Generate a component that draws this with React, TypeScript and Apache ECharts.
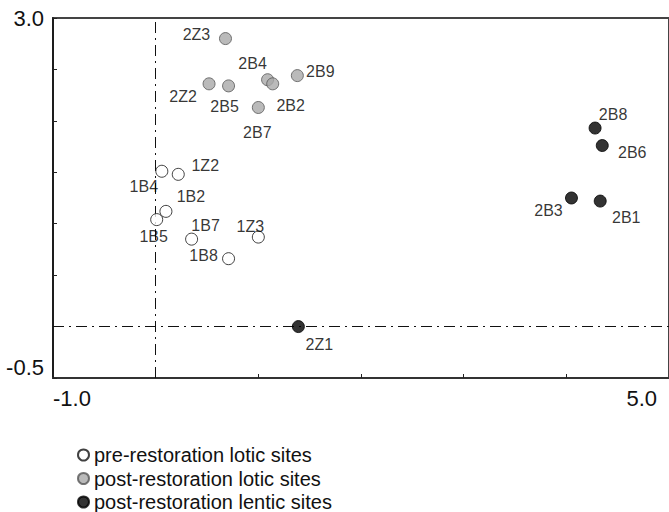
import React, { useEffect, useRef } from 'react';
import * as echarts from 'echarts';

const seriesNames = ['pre-restoration lotic sites', 'post-restoration lotic sites', 'post-restoration lentic sites'];

const preNames = ['1B4', '1Z2', '1B2', '1B5', '1B7', '1Z3', '1B8'];
const preX = [0.06, 0.22, 0.10, 0.01, 0.35, 1.00, 0.71];
const preY = [1.51, 1.48, 1.12, 1.04, 0.85, 0.87, 0.66];

const loticNames = ['2Z3', '2B4', '2B2', '2B9', '2Z2', '2B5', '2B7'];
const loticX = [0.68, 1.09, 1.14, 1.38, 0.52, 0.71, 1.00];
const loticY = [2.80, 2.40, 2.36, 2.44, 2.36, 2.34, 2.13];

const lenticNames = ['2Z1', '2B8', '2B6', '2B3', '2B1'];
const lenticX = [1.39, 4.28, 4.35, 4.05, 4.33];
const lenticY = [0.00, 1.93, 1.76, 1.25, 1.22];

const xTickLabels = ['-1.0', '5.0'];
const yTickLabels = ['3.0', '-0.5'];

// label placement (styling only)
const labelOffsets: Record<string, [number, number]> = {
  '2Z3': [-29, -4], '2B4': [-15, -16], '2B9': [23, -4], '2Z2': [-26, 13], '2B5': [-4, 21],
  '2B2': [18, 22], '2B7': [-1, 25], '1Z2': [27, -9], '1B4': [-18, 15], '1B2': [25, -15],
  '1B5': [-3, 17], '1B7': [14, -14], '1Z3': [-8, -11], '1B8': [-25, -3], '2Z1': [21, 18],
  '2B8': [18, -14], '2B6': [30, 7], '2B3': [-23, 12], '2B1': [26, 16],
};

const FONT = 'Liberation Sans, Arial, sans-serif';

function buildData(names: string[], xs: number[], ys: number[]) {
  return names.map((n, i) => ({
    name: n,
    value: [xs[i], ys[i]],
    label: { offset: labelOffsets[n] || [0, 0] },
  }));
}

export default function App() {
  const ref = useRef<HTMLDivElement>(null);
  useEffect(() => {
    const chart = echarts.init(ref.current!, null, { renderer: 'svg' });
    const pointLabel = {
      show: true,
      position: 'inside',
      formatter: '{b}',
      color: '#000',
      fontFamily: FONT,
      fontSize: 16,
      align: 'center',
      verticalAlign: 'middle',
    };
    const option: any = {
      animation: false,
      backgroundColor: '#fff',
      grid: { left: 53, right: -2, top: 18, bottom: 134, show: true, borderColor: '#444', borderWidth: 2, backgroundColor: 'transparent' },
      legend: {
        data: seriesNames,
        orient: 'vertical',
        left: 77,
        top: 445,
        padding: 0,
        height: 100,
        itemWidth: 11,
        itemHeight: 11,
        itemGap: 3.5,
        icon: 'circle',
        textStyle: { fontFamily: FONT, fontSize: 20, color: '#111', lineHeight: 20 },
      },
      xAxis: {
        type: 'value',
        min: -1,
        max: 5,
        interval: 1,
        splitLine: { show: false },
        axisLine: { onZero: false, lineStyle: { color: '#333', width: 2 } },
        axisTick: { show: true, inside: true, length: 4, lineStyle: { color: '#222' } },
        axisLabel: {
          fontFamily: FONT,
          fontSize: 22,
          color: '#111',
          margin: 9,
          alignMinLabel: 'left',
          alignMaxLabel: 'right',
          formatter: (v: number) => {
            if (Math.abs(v - -1) < 1e-9) return xTickLabels[0];
            if (Math.abs(v - 5) < 1e-9) return '{r|' + xTickLabels[1] + '}';
            return '';
          },
          rich: { r: { fontFamily: FONT, fontSize: 22, color: '#111', padding: [0, 12, 0, 0] } },
        },
      },
      yAxis: {
        type: 'value',
        min: -0.5,
        max: 3,
        interval: 0.5,
        splitLine: { show: false },
        axisLine: { onZero: false, lineStyle: { color: '#111', width: 1.5 } },
        axisTick: { show: true, inside: true, length: 4, lineStyle: { color: '#222' } },
        axisLabel: {
          fontFamily: FONT,
          fontSize: 22,
          color: '#111',
          margin: 9,
          verticalAlignMinLabel: 'bottom',
          formatter: (v: number) => {
            if (Math.abs(v - 3) < 1e-9) return yTickLabels[0];
            if (Math.abs(v - -0.5) < 1e-9) return yTickLabels[1];
            return '';
          },
        },
      },
      series: [
        {
          name: seriesNames[0],
          type: 'scatter',
          symbol: 'circle',
          symbolSize: 12,
          itemStyle: { color: '#fff', borderColor: '#111', borderWidth: 1 },
          label: pointLabel,
          data: buildData(preNames, preX, preY),
          z: 3,
          markLine: {
            silent: true,
            symbol: 'none',
            label: { show: false },
            lineStyle: { color: '#111', width: 1, type: [11, 5, 2, 5] },
            data: [{ xAxis: 0 }, { yAxis: 0 }],
            z: 1,
          },
        },
        {
          name: seriesNames[1],
          type: 'scatter',
          symbol: 'circle',
          symbolSize: 12,
          itemStyle: { color: '#a9a9a9', borderColor: '#555', borderWidth: 1 },
          label: pointLabel,
          data: buildData(loticNames, loticX, loticY),
          z: 3,
        },
        {
          name: seriesNames[2],
          type: 'scatter',
          symbol: 'circle',
          symbolSize: 12,
          itemStyle: { color: '#000', borderColor: '#000', borderWidth: 1 },
          label: pointLabel,
          data: buildData(lenticNames, lenticX, lenticY),
          z: 3,
        },
      ],
    };
    chart.setOption(option);
    return () => chart.dispose();
  }, []);
  return (
    <div
      ref={ref}
      style={{ position: 'fixed', left: 0, top: 0, width: 669, height: 512, background: '#fff' }}
    />
  );
}
